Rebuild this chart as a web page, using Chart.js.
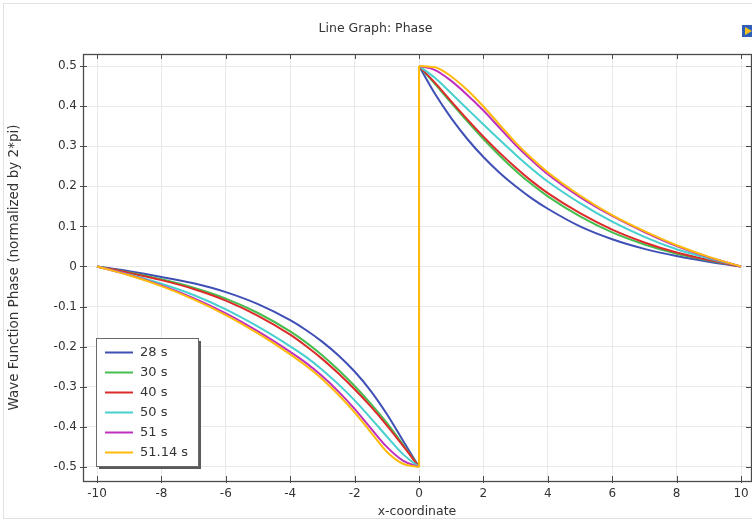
<!DOCTYPE html>
<html>
<head>
<meta charset="utf-8">
<title>Line Graph: Phase</title>
<script src="https://cdn.jsdelivr.net/npm/chart.js@4/dist/chart.umd.min.js"></script>
<style>
  html, body { margin: 0; padding: 0; background: #ffffff; }
  #wrap { width: 752px; height: 522px; }
</style>
</head>
<body>
<div id="wrap"><canvas id="chart" width="752" height="522"></canvas></div>
<script>
// Phase of the wave function (normalized by 2*pi) along x, one curve per time
const seriesLabels = ['28 s', '30 s', '40 s', '50 s', '51 s', '51.14 s'];
const seriesColors = ['#3f4fb5', '#45bd4f', '#dd2a2a', '#48cfcf', '#bf2fbf', '#ffba0a'];

// sample positions on each side of the discontinuity at x = 0
const xLeft  = [-10, -9, -8, -7, -6, -5, -4, -3.5, -3, -2.5, -2, -1.5, -1, -0.5, 0];
const xRight = [0, 0.5, 1, 1.5, 2, 2.5, 3, 3.5, 4, 5, 6, 7, 8, 9, 10];

// x < 0 branch
const left28   = [0, -0.012, -0.026, -0.042, -0.064, -0.094, -0.134, -0.159, -0.188, -0.222, -0.262, -0.310, -0.368, -0.434, -0.5];
const left30   = [0, -0.015, -0.032, -0.053, -0.080, -0.116, -0.162, -0.190, -0.222, -0.258, -0.298, -0.342, -0.390, -0.444, -0.5];
const left40   = [0, -0.016, -0.034, -0.056, -0.085, -0.123, -0.170, -0.199, -0.231, -0.267, -0.306, -0.349, -0.396, -0.447, -0.5];
const left50   = [0, -0.020, -0.043, -0.071, -0.107, -0.150, -0.199, -0.226, -0.258, -0.294, -0.334, -0.378, -0.424, -0.468, -0.5];
const left51   = [0, -0.021, -0.047, -0.079, -0.117, -0.162, -0.213, -0.241, -0.274, -0.312, -0.355, -0.403, -0.450, -0.484, -0.5];
const left5114 = [0, -0.022, -0.049, -0.082, -0.121, -0.167, -0.219, -0.248, -0.281, -0.320, -0.364, -0.413, -0.462, -0.492, -0.5];

// x > 0 branch
const right28   = [0.5, 0.430, 0.370, 0.318, 0.273, 0.234, 0.200, 0.170, 0.144, 0.100, 0.068, 0.044, 0.026, 0.012, 0];
const right30   = [0.5, 0.455, 0.408, 0.362, 0.318, 0.277, 0.239, 0.205, 0.175, 0.125, 0.085, 0.055, 0.032, 0.015, 0];
const right40   = [0.5, 0.458, 0.412, 0.367, 0.324, 0.284, 0.247, 0.213, 0.183, 0.133, 0.092, 0.060, 0.035, 0.016, 0];
const right50   = [0.5, 0.470, 0.432, 0.393, 0.354, 0.316, 0.279, 0.244, 0.212, 0.158, 0.112, 0.074, 0.043, 0.020, 0];
const right51   = [0.5, 0.490, 0.463, 0.428, 0.389, 0.346, 0.303, 0.265, 0.230, 0.173, 0.126, 0.086, 0.051, 0.023, 0];
const right5114 = [0.5, 0.497, 0.474, 0.440, 0.399, 0.354, 0.309, 0.270, 0.235, 0.177, 0.128, 0.088, 0.053, 0.024, 0];

const xTicks = [-10, -8, -6, -4, -2, 0, 2, 4, 6, 8, 10];
const yTicks = [-0.5, -0.4, -0.3, -0.2, -0.1, 0, 0.1, 0.2, 0.3, 0.4, 0.5];

const leftBranches  = [left28, left30, left40, left50, left51, left5114];
const rightBranches = [right28, right30, right40, right50, right51, right5114];

const FONT = 'DejaVu Sans';

function points(xs, ys) {
  return xs.map((x, i) => ({ x: x, y: ys[i] }));
}

// each curve = left branch, vertical jump at x = 0, right branch
const datasets = [];
seriesLabels.forEach((label, i) => {
  const base = {
    label: label,
    borderColor: seriesColors[i],
    backgroundColor: seriesColors[i],
    borderWidth: 2,
    pointRadius: 0,
    fill: false,
    order: seriesLabels.length - i
  };
  const l = leftBranches[i], r = rightBranches[i];
  datasets.push(Object.assign({}, base, { data: points(xLeft, l), cubicInterpolationMode: 'monotone' }));
  datasets.push(Object.assign({}, base, { data: points([0, 0], [l[l.length - 1], r[0]]), tension: 0 }));
  datasets.push(Object.assign({}, base, { data: points(xRight, r), cubicInterpolationMode: 'monotone' }));
});

// background, outer panel border and header icon
const panelPlugin = {
  id: 'panel',
  beforeDraw(chart) {
    const ctx = chart.ctx;
    ctx.save();
    ctx.fillStyle = '#ffffff';
    ctx.fillRect(0, 0, chart.width, chart.height);
    ctx.strokeStyle = '#e2e2e2';
    ctx.lineWidth = 1;
    ctx.strokeRect(3.5, 3.5, chart.width + 10, chart.height - 7);
    ctx.restore();
  },
  afterDraw(chart) {
    const ctx = chart.ctx;
    ctx.save();
    ctx.fillStyle = '#2f5fb8';
    ctx.fillRect(742, 25, 12, 12);
    ctx.fillStyle = '#f4c21a';
    ctx.beginPath();
    ctx.moveTo(745, 27); ctx.lineTo(752, 31); ctx.lineTo(745, 35); ctx.closePath();
    ctx.fill();
    ctx.restore();
  }
};

// plot frame with inward tick marks on all four sides
const framePlugin = {
  id: 'frame',
  afterDatasetsDraw(chart) {
    const { ctx, chartArea: a, scales } = chart;
    ctx.save();
    ctx.strokeStyle = '#4a4a4a';
    ctx.lineWidth = 1;
    ctx.beginPath();
    xTicks.forEach(v => {
      const px = Math.round(scales.x.getPixelForValue(v)) + 0.5;
      ctx.moveTo(px, a.bottom + 2); ctx.lineTo(px, a.bottom - 5);
      ctx.moveTo(px, a.top); ctx.lineTo(px, a.top + 5);
    });
    yTicks.forEach(v => {
      const py = Math.round(scales.y.getPixelForValue(v)) + 0.5;
      ctx.moveTo(a.left - 3, py); ctx.lineTo(a.left + 4, py);
      ctx.moveTo(a.right, py); ctx.lineTo(a.right - 5, py);
    });
    ctx.stroke();
    ctx.lineWidth = 1.3;
    ctx.strokeRect(Math.round(a.left) + 0.5, Math.round(a.top) + 0.5,
                   Math.round(a.right - a.left), Math.round(a.bottom - a.top));
    ctx.restore();
  }
};

// boxed legend in the lower-left corner of the plot
const legendPlugin = {
  id: 'boxLegend',
  afterDraw(chart) {
    const ctx = chart.ctx;
    const bx = 96, by = 338, bw = 102, bh = 128;
    ctx.save();
    ctx.fillStyle = '#5a5a5a';
    ctx.fillRect(bx + 3, by + 3, bw, bh);
    ctx.fillStyle = '#ffffff';
    ctx.fillRect(bx, by, bw, bh);
    ctx.strokeStyle = '#6a6a6a';
    ctx.lineWidth = 1;
    ctx.strokeRect(bx + 0.5, by + 0.5, bw, bh);
    ctx.font = '13px "' + FONT + '"';
    ctx.textBaseline = 'middle';
    ctx.textAlign = 'left';
    seriesLabels.forEach((label, i) => {
      const y = by + 14.5 + i * 20;
      ctx.strokeStyle = seriesColors[i];
      ctx.lineWidth = 2;
      ctx.beginPath();
      ctx.moveTo(bx + 9, y); ctx.lineTo(bx + 37, y);
      ctx.stroke();
      ctx.fillStyle = '#333333';
      ctx.fillText(label, bx + 44, y + 0.5);
    });
    ctx.restore();
  }
};

new Chart(document.getElementById('chart'), {
  type: 'line',
  data: { datasets: datasets },
  options: {
    responsive: false,
    animation: false,
    devicePixelRatio: 1,
    layout: { padding: { left: 0, right: 1, top: 0, bottom: 0 } },
    plugins: {
      legend: { display: false },
      tooltip: { enabled: false },
      title: {
        display: true,
        text: 'Line Graph: Phase',
        color: '#333333',
        font: { family: FONT, size: 12.5, weight: 'normal', lineHeight: 1.2 },
        padding: { top: 21, bottom: 18 }
      }
    },
    scales: {
      x: {
        type: 'linear',
        min: -10.435,
        max: 10.31,
        afterBuildTicks(scale) { scale.ticks = xTicks.map(v => ({ value: v })); },
        afterFit(scale) { scale.height = 41; scale.paddingLeft = 0; scale.paddingRight = 0; },
        grid: { color: '#e9e9e9', lineWidth: 1, drawTicks: false },
        border: { display: false },
        ticks: {
          padding: 6,
          color: '#333333',
          font: { family: FONT, size: 12 },
          maxRotation: 0,
          callback: v => String(v)
        },
        title: {
          display: true,
          text: 'x-coordinate',
          color: '#333333',
          font: { family: FONT, size: 12.5 },
          padding: { top: 0, bottom: 3 }
        }
      },
      y: {
        type: 'linear',
        min: -0.535,
        max: 0.53,
        afterBuildTicks(scale) { scale.ticks = yTicks.map(v => ({ value: v })); },
        afterFit(scale) { scale.width = 83; scale.paddingTop = 0; scale.paddingBottom = 0; },
        grid: { color: '#e9e9e9', lineWidth: 1, drawTicks: false },
        border: { display: false },
        ticks: {
          padding: 6,
          color: '#333333',
          font: { family: FONT, size: 12 },
          callback: v => (Math.abs(v) < 1e-9 ? '0' : v.toFixed(1))
        },
        title: {
          display: true,
          text: 'Wave Function Phase (normalized by 2*pi)',
          color: '#333333',
          font: { family: FONT, size: 13.5 },
          padding: { top: 6, bottom: 0 }
        }
      }
    }
  },
  plugins: [panelPlugin, framePlugin, legendPlugin]
});
</script>
</body>
</html>
